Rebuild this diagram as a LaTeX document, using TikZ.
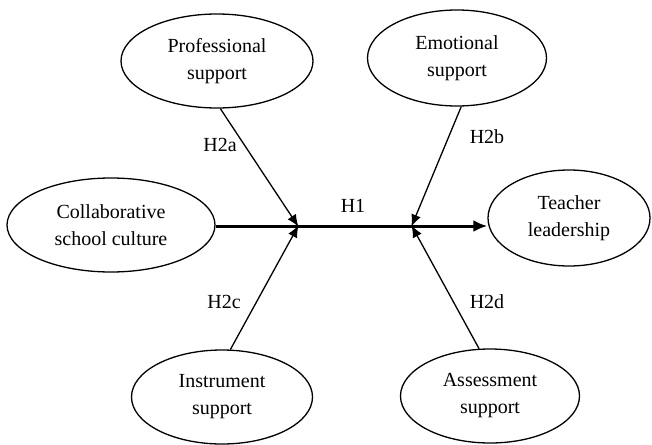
\documentclass[tikz,border=0pt]{standalone}
\usepackage{fontspec}
\setmainfont{Liberation Serif}
\usetikzlibrary{shapes,calc,positioning,arrows.meta}
\tikzset{
	factor/.style={draw, ellipse, line width=1.3pt, inner sep=0pt, align=center},
	path/.style={-{Latex[length=12pt,width=10pt]}, line width=1.3pt, shorten >=1pt},
}

\begin{document}
\begin{tikzpicture}[x=1pt, y=-1pt, font=\fontsize{20}{27}\selectfont]
\useasboundingbox (0,0) rectangle (652,444);
% the shapes
\node[factor, minimum width=192pt, minimum height=94pt] at (217,61) (prof) {Professional\\support};
\node[factor, minimum width=179pt, minimum height=96pt] at (457,58) (emo) {Emotional\\support};
\node[factor, minimum width=208pt, minimum height=94pt] at (111,225) (collab) {Collaborative\\school culture};
\node[factor, minimum width=162pt, minimum height=96pt] at (569,218) (teach) {Teacher\\leadership};
\node[factor, minimum width=181pt, minimum height=94pt] at (222,397) (inst) {Instrument\\support};
\node[factor, minimum width=179pt, minimum height=94pt] at (490,396) (assess) {Assessment\\support};
\coordinate (jl) at (299,226);
\coordinate (jr) at (411,226);

% the arrows
\draw[-{Latex[length=14pt,width=12pt]}, line width=3pt] (collab.east |- jl) -- (jl -| teach.west);
\draw[path] (prof.-86) -- ([yshift=-1.5pt]jl);
\draw[path] (emo.-85) -- ([yshift=-1.5pt]jr);
\draw[path] (inst.80) -- ([yshift=1.5pt]jl);
\draw[path] (assess.103) -- ([yshift=1.5pt]jr);

% the labels
\node at (353,206) (h1) {H1};
\node at (220,145) (h2a) {H2a};
\node at (487,137) (h2b) {H2b};
\node at (224,302) (h2c) {H2c};
\node at (487,302) (h2d) {H2d};
\end{tikzpicture}
\end{document}
